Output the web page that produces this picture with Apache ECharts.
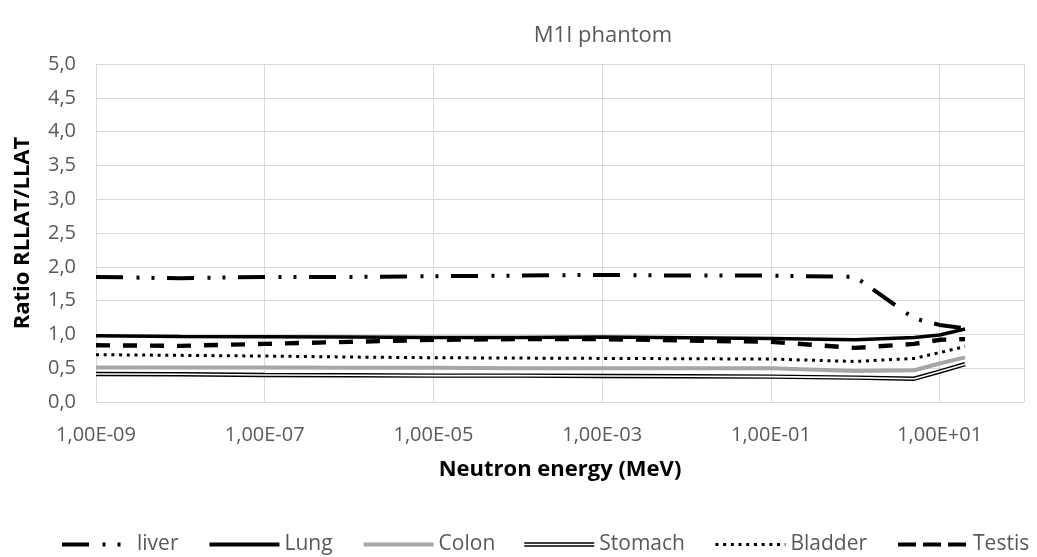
<!DOCTYPE html>
<html>
<head>
<meta charset="utf-8">
<script src="https://cdn.jsdelivr.net/npm/echarts@6/dist/echarts.min.js"></script>
<style>
  html, body { margin: 0; padding: 0; background: #ffffff; }
  #chart { width: 1037px; height: 557px; }
</style>
</head>
<body>
<div id="chart"></div>
<script>
// Neutron energies (MeV) and the RLLAT/LLAT ratio per organ
const energies = [1e-9, 1e-8, 1e-7, 1e-6, 1e-5, 1e-4, 1e-3, 1e-2, 1e-1, 1, 5, 10, 20];
const liver   = [1.85, 1.83, 1.85, 1.85, 1.86, 1.87, 1.88, 1.87, 1.87, 1.85, 1.235, 1.14, 1.09];
const lung    = [0.98, 0.97, 0.965, 0.96, 0.955, 0.955, 0.96, 0.95, 0.94, 0.92, 0.955, 0.99, 1.08];
const colon   = [0.51, 0.51, 0.51, 0.505, 0.505, 0.50, 0.50, 0.50, 0.50, 0.46, 0.47, 0.57, 0.66];
const stomach = [0.415, 0.41, 0.40, 0.395, 0.39, 0.39, 0.385, 0.38, 0.375, 0.36, 0.345, 0.45, 0.56];
const bladder = [0.70, 0.69, 0.68, 0.665, 0.655, 0.65, 0.645, 0.64, 0.635, 0.60, 0.645, 0.73, 0.82];
const testis  = [0.84, 0.83, 0.86, 0.89, 0.92, 0.93, 0.93, 0.91, 0.89, 0.80, 0.86, 0.92, 0.93];

// Axis ranges: x in decades of MeV, y ratio
const xDecadeMin = -9, xDecadeMax = 2, xDecadeStep = 2;
const yMin = 0, yMax = 5, yStep = 0.5;

const FONT = '"Open Sans", "Noto Sans", sans-serif';
const GRID = '#d9d9d9';
const TEXT = '#595959';

// the x axis is linear in log10(energy)
const toPoints = vals => energies.map((e, i) => [Math.log10(e), vals[i]]);

// tick label in the 1,00E-09 style
function sciLabel(v) {
  const e = Math.round(v);
  const sign = e < 0 ? '-' : '+';
  return '1,00E' + sign + String(Math.abs(e)).padStart(2, '0');
}

// legend mark for the double-line series: two thin bars with a gap
const doubleLineIcon = 'path://M0,0L0.01,0L0,0.01Z M0,14L0.01,14L0,13.99Z M0,4.8H70V6.3H0Z M0,7.7H70V9.2H0Z';

const chart = echarts.init(document.getElementById('chart'), null, { renderer: 'canvas' });

// last x tick sits on the right edge of the plot and gets no grid line
const tickCount = Math.round((xDecadeMax - xDecadeMin) / xDecadeStep) + 2;
const xSplitColors = Array.from({ length: tickCount }, (_, i) => i === tickCount - 1 ? 'rgba(0,0,0,0)' : GRID);

const hiddenMarker = { opacity: 0 };

const option = {
  backgroundColor: '#ffffff',
  animation: false,
  graphic: [{
    type: 'text',
    x: 603, y: 36,
    style: {
      text: 'M1I phantom',
      textAlign: 'center',
      textVerticalAlign: 'middle',
      fontFamily: FONT,
      fontSize: 22,
      fill: TEXT
    }
  }],
  grid: { left: 96, right: 13, top: 64, bottom: 155, containLabel: false },
  legend: {
    left: 55,
    top: 529,
    width: 990,
    itemWidth: 70,
    itemHeight: 14,
    itemGap: 29,
    textStyle: { fontFamily: FONT, fontSize: 21, color: TEXT },
    data: [
      { name: 'liver', lineStyle: { width: 4 }, itemStyle: hiddenMarker },
      { name: 'Lung', lineStyle: { width: 4 }, itemStyle: hiddenMarker },
      { name: 'Colon', lineStyle: { width: 4 }, itemStyle: hiddenMarker },
      { name: 'Stomach', icon: doubleLineIcon, itemStyle: { color: '#000000', borderWidth: 0, opacity: 1 } },
      { name: 'Bladder', lineStyle: { width: 3 }, itemStyle: hiddenMarker },
      { name: 'Testis', lineStyle: { width: 4, type: [18, 7] }, itemStyle: hiddenMarker }
    ]
  },
  xAxis: {
    type: 'value',
    min: xDecadeMin,
    max: xDecadeMax,
    interval: xDecadeStep,
    name: 'Neutron energy (MeV)',
    nameLocation: 'middle',
    nameGap: 57,
    nameTextStyle: { fontFamily: FONT, fontSize: 22, fontWeight: 'bold', color: '#000000' },
    axisLine: { show: true, lineStyle: { color: GRID, width: 1 } },
    axisTick: { show: false },
    axisLabel: {
      fontFamily: FONT, fontSize: 20, color: TEXT, margin: 23,
      showMaxLabel: false,
      formatter: sciLabel
    },
    splitLine: { show: true, lineStyle: { color: xSplitColors, width: 1 } }
  },
  yAxis: {
    type: 'value',
    min: yMin,
    max: yMax,
    interval: yStep,
    name: 'Ratio RLLAT/LLAT',
    nameLocation: 'middle',
    nameGap: 62,
    nameTextStyle: { fontFamily: FONT, fontSize: 22, fontWeight: 'bold', color: '#000000' },
    axisLine: { show: false },
    axisTick: { show: false },
    axisLabel: {
      fontFamily: FONT, fontSize: 20, color: TEXT, margin: 20,
      formatter: v => v.toFixed(1).replace('.', ',')
    },
    splitLine: { show: true, lineStyle: { color: GRID, width: 1 } }
  },
  series: [
    {
      name: 'liver', type: 'line', symbol: 'none', data: toPoints(liver),
      lineStyle: { color: '#000000', width: 4, type: [27, 13.5, 3, 12, 3, 12.5] },
      itemStyle: { color: '#000000' }
    },
    {
      name: 'Lung', type: 'line', symbol: 'none', data: toPoints(lung),
      lineStyle: { color: '#000000', width: 3.5 },
      itemStyle: { color: '#000000' }
    },
    {
      name: 'Colon', type: 'line', symbol: 'none', data: toPoints(colon),
      lineStyle: { color: '#a6a6a6', width: 4 },
      itemStyle: { color: '#a6a6a6' }
    },
    {
      name: 'Stomach', type: 'line', symbol: 'none', data: toPoints(stomach),
      lineStyle: { color: '#000000', width: 4.4 },
      itemStyle: { color: '#000000' }
    },
    {
      // white core that turns the stomach curve into a double line
      name: 'Stomach-core', type: 'line', symbol: 'none', data: toPoints(stomach),
      lineStyle: { color: '#ffffff', width: 1.6 },
      itemStyle: { color: '#ffffff' },
      silent: true
    },
    {
      name: 'Bladder', type: 'line', symbol: 'none', data: toPoints(bladder),
      lineStyle: { color: '#000000', width: 3, type: [3, 4.7] },
      itemStyle: { color: '#000000' }
    },
    {
      name: 'Testis', type: 'line', symbol: 'none', data: toPoints(testis),
      lineStyle: { color: '#000000', width: 4.4, type: [14, 13] },
      itemStyle: { color: '#000000' }
    }
  ]
};

chart.setOption(option);
</script>
</body>
</html>
